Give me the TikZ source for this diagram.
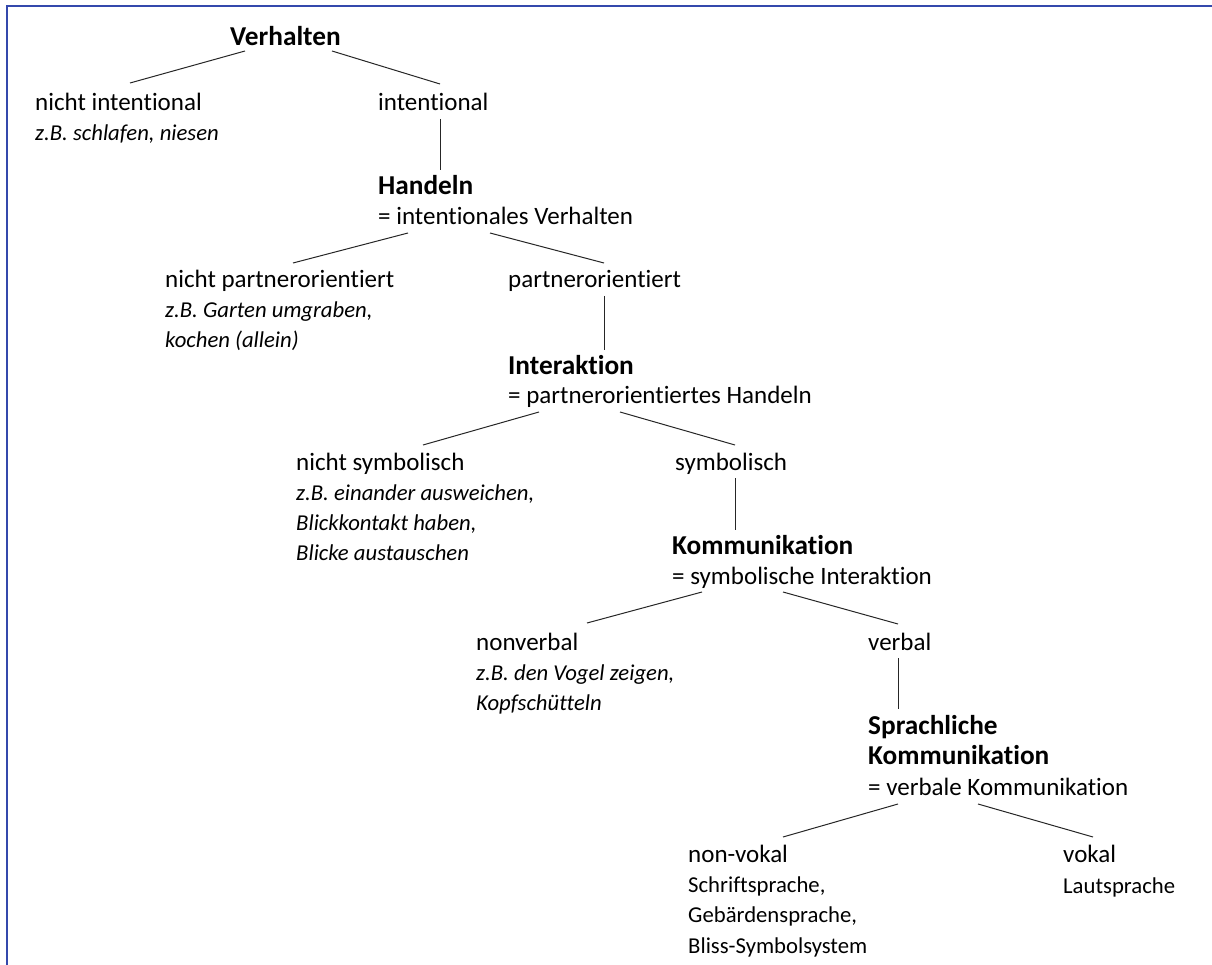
\documentclass[tikz,border=0pt]{standalone}
\usepackage{fontspec}
\setmainfont{Carlito}[Ligatures=NoCommon]
\usetikzlibrary{calc}

\definecolor{frameblue}{RGB}{52,72,172}

\tikzset{
  lbl/.style={anchor=base west,inner sep=0pt,font=\fontsize{25}{30}\selectfont},
  head/.style={lbl,font=\fontsize{27.3}{30}\selectfont\bfseries},
  ex/.style={lbl,font=\fontsize{22.7}{30}\selectfont\itshape},
  small/.style={lbl,font=\fontsize{22.7}{30}\selectfont},
  branch/.style={line width=1pt,black!85}
}

\begin{document}
\begin{tikzpicture}[x=1pt,y=-1pt]
\useasboundingbox (0,0) rectangle (1212,965);
% frame
\draw[frameblue,line width=2pt] (7,965) -- (7,6) -- (1212,6);

% Verhalten
\node[head] (verhalten) at (230,46) {Verhalten};
\node[lbl] (nichtint) at (35,111) {nicht intentional};
\node[ex] (nichtintex) at (35,141) {z.B. schlafen, niesen};
\node[lbl] (intentional) at (378,111) {intentional};

% Handeln
\node[head] (handeln) at (378,195) {Handeln};
\node[lbl] (handelndef) at (378,225) {= intentionales Verhalten};
\node[lbl] (nichtpartner) at (165,288) {nicht partnerorientiert};
\node[ex] (nichtpartnerex1) at (165,318) {z.B. Garten umgraben,};
\node[ex] (nichtpartnerex2) at (165,348) {kochen (allein)};
\node[lbl] (partner) at (508,288) {partnerorientiert};

% Interaktion
\node[head] (interaktion) at (508,374) {Interaktion};
\node[lbl] (interaktiondef) at (508,403) {= partnerorientiertes Handeln};
\node[lbl] (nichtsymb) at (296,470) {nicht symbolisch};
\node[ex] (nichtsymbex1) at (296,500) {z.B. einander ausweichen,};
\node[ex] (nichtsymbex2) at (296,530) {Blickkontakt haben,};
\node[ex] (nichtsymbex3) at (296,560) {Blicke austauschen};
\node[lbl] (symb) at (675,470) {symbolisch};

% Kommunikation
\node[head] (komm) at (672,554) {Kommunikation};
\node[lbl] (kommdef) at (672,584) {= symbolische Interaktion};
\node[lbl] (nonverbal) at (476,650) {nonverbal};
\node[ex] (nonverbalex1) at (476,680) {z.B. den Vogel zeigen,};
\node[ex] (nonverbalex2) at (476,710) {Kopfsch\"utteln};
\node[lbl] (verbal) at (868,650) {verbal};

% Sprachliche Kommunikation
\node[head] (sprach1) at (868,734) {Sprachliche};
\node[head] (sprach2) at (868,764) {Kommunikation};
\node[lbl] (sprachdef) at (868,795) {= verbale Kommunikation};
\node[lbl] (nonvokal) at (688,862) {non-vokal};
\node[small] (nonvokalex1) at (688,892) {Schriftsprache,};
\node[small] (nonvokalex2) at (688,922) {Geb\"ardensprache,};
\node[small] (nonvokalex3) at (688,953) {Bliss-Symbolsystem};
\node[lbl] (vokal) at (1063,862) {vokal};
\node[small] (vokalex) at (1063,893) {Lautsprache};

% branches
\draw[branch] ($(verhalten.base west)+(15,5)$) -- ($(nichtint.base west)+(95,-28)$);
\draw[branch] ($(verhalten.base west)+(102,5)$) -- ($(intentional.base west)+(62,-27)$);
\draw[branch] ($(intentional.base west)+(62,8)$) -- ($(handeln.base west)+(62,-25)$);

\draw[branch] ($(handelndef.base west)+(30,8)$) -- ($(nichtpartner.base west)+(128,-25)$);
\draw[branch] ($(handelndef.base west)+(112,8)$) -- ($(partner.base west)+(96,-25)$);
\draw[branch] ($(partner.base west)+(96,8)$) -- ($(interaktion.base west)+(96,-24)$);

\draw[branch] ($(interaktiondef.base west)+(31,9)$) -- ($(nichtsymb.base west)+(127,-25)$);
\draw[branch] ($(interaktiondef.base west)+(112,9)$) -- ($(symb.base west)+(60,-25)$);
\draw[branch] ($(symb.base west)+(60,8)$) -- ($(komm.base west)+(63,-24)$);

\draw[branch] ($(kommdef.base west)+(30,8)$) -- ($(nonverbal.base west)+(111,-27)$);
\draw[branch] ($(kommdef.base west)+(111,8)$) -- ($(verbal.base west)+(30,-26)$);
\draw[branch] ($(verbal.base west)+(30,8)$) -- ($(sprach1.base west)+(30,-25)$);

\draw[branch] ($(sprachdef.base west)+(30,9)$) -- ($(nonvokal.base west)+(95,-25)$);
\draw[branch] ($(sprachdef.base west)+(110,9)$) -- ($(vokal.base west)+(30,-25)$);
\end{tikzpicture}
\end{document}
